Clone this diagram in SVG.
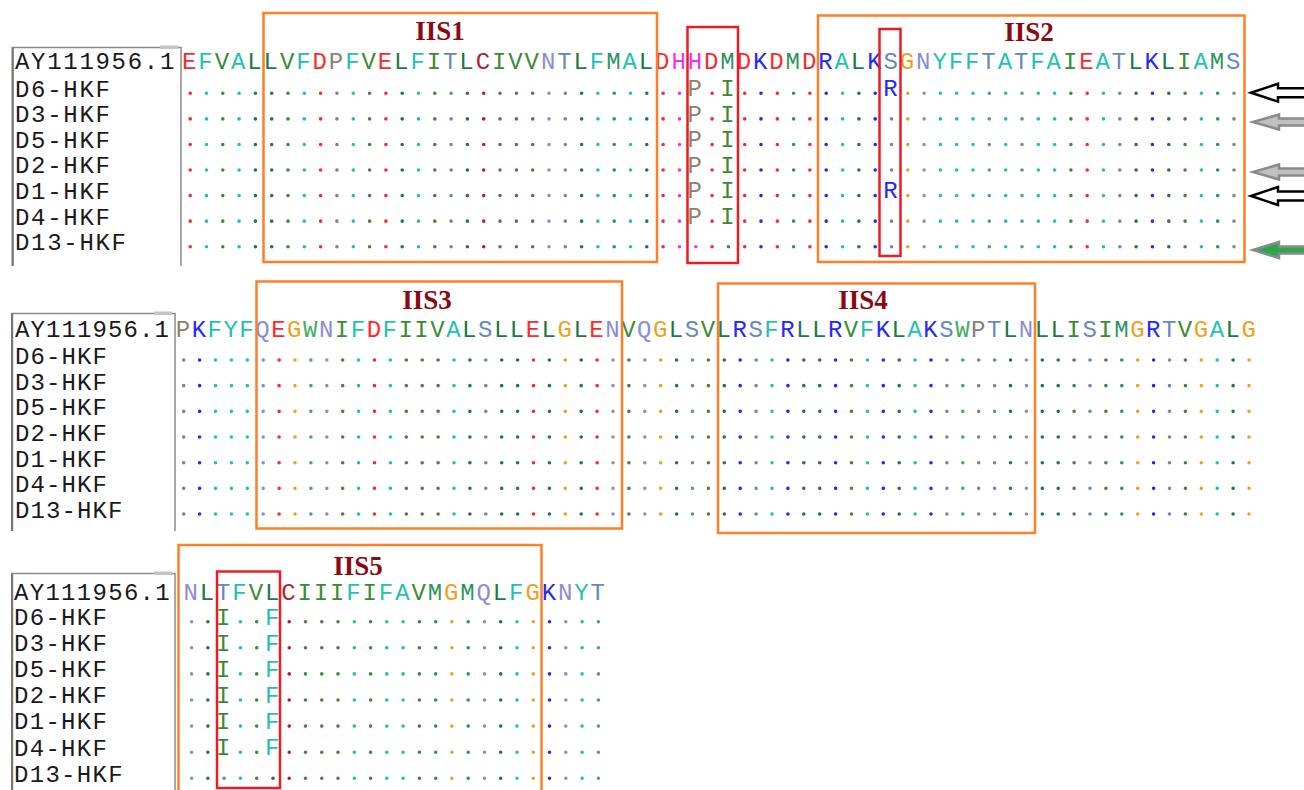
<svg xmlns="http://www.w3.org/2000/svg" width="1304" height="790" viewBox="0 0 1304 790">
<style>
text{font-family:"Liberation Mono","DejaVu Sans Mono",monospace;font-size:24px}
.nm{fill:#1a1a1a}
.lab{font-family:"Liberation Serif","DejaVu Serif",serif;font-weight:bold;font-size:27px;fill:#8b0a12;text-anchor:middle}
.r{fill:#ff2828}.t{fill:#1fc2b2}.g{fill:#3a8c34}.l{fill:#1b7a46}.m{fill:#2a9560}.w{fill:#3fae5e}
.s{fill:#6689c0}.v{fill:#8c8cd4}.c{fill:#b21e30}.p{fill:#8a8070}.h{fill:#f032f0}.b{fill:#2626ff}.o{fill:#f0a020}
.dots path{fill:none;stroke-width:3.6;stroke-linecap:round}
.d1 path{stroke-dasharray:0.01 25.56}
.d2 path{stroke-dasharray:0.01 25.66}
.d3 path{stroke-dasharray:0.01 26.09}
.frame{fill:none;stroke:#8c8c8c;stroke-width:1.5}
.ob{fill:none;stroke:#ff7f27;stroke-width:2.5}
.rb{fill:none;stroke:#ed1c24;stroke-width:2.5}
.tab{fill:#c4c4c4}
.aw{fill:#ffffff;stroke:#000000;stroke-width:2.5}
.ag{fill:#c0c0c0;stroke:#8a8a8a;stroke-width:2.5}
.agr{fill:#2aa84a;stroke:#8a8a8a;stroke-width:2.5}
</style>

<g id="block1">
<path class="frame" d="M13 266V47.5H181V266"/>
<path d="M12.5 266V47" stroke="#777" stroke-width="2" fill="none"/>
<rect class="tab" x="160" y="45.5" width="18" height="3.5"/>
<text class="nm" x="15" y="69" style="letter-spacing:1.7px">AY111956.1</text>
<text class="nm" x="15" y="96.7" style="letter-spacing:1.7px">D6-HKF</text>
<text class="nm" x="15" y="122.3" style="letter-spacing:1.7px">D3-HKF</text>
<text class="nm" x="15" y="147.8" style="letter-spacing:1.7px">D5-HKF</text>
<text class="nm" x="15" y="173.4" style="letter-spacing:1.7px">D2-HKF</text>
<text class="nm" x="15" y="199" style="letter-spacing:1.7px">D1-HKF</text>
<text class="nm" x="15" y="224.6" style="letter-spacing:1.7px">D4-HKF</text>
<text class="nm" x="15" y="250.1" style="letter-spacing:1.7px">D13-HKF</text>
<text x="182" y="69" style="letter-spacing:1.91px"><tspan class="r">E</tspan><tspan class="t">F</tspan><tspan class="g">V</tspan><tspan class="t">A</tspan><tspan class="l">LL</tspan><tspan class="g">V</tspan><tspan class="t">F</tspan><tspan class="r">D</tspan><tspan class="p">P</tspan><tspan class="t">F</tspan><tspan class="g">V</tspan><tspan class="r">E</tspan><tspan class="l">L</tspan><tspan class="t">F</tspan><tspan class="g">I</tspan><tspan class="s">T</tspan><tspan class="l">L</tspan><tspan class="c">C</tspan><tspan class="g">IVV</tspan><tspan class="v">N</tspan><tspan class="s">T</tspan><tspan class="l">L</tspan><tspan class="t">F</tspan><tspan class="m">M</tspan><tspan class="t">A</tspan><tspan class="l">L</tspan><tspan class="r">D</tspan><tspan class="h">HH</tspan><tspan class="r">D</tspan><tspan class="m">M</tspan><tspan class="r">D</tspan><tspan class="b">K</tspan><tspan class="r">D</tspan><tspan class="m">M</tspan><tspan class="r">D</tspan><tspan class="b">R</tspan><tspan class="t">A</tspan><tspan class="l">L</tspan><tspan class="b">K</tspan><tspan class="s">S</tspan><tspan class="o">G</tspan><tspan class="v">N</tspan><tspan class="t">YFF</tspan><tspan class="s">T</tspan><tspan class="t">A</tspan><tspan class="s">T</tspan><tspan class="t">FA</tspan><tspan class="g">I</tspan><tspan class="r">E</tspan><tspan class="t">A</tspan><tspan class="s">T</tspan><tspan class="l">L</tspan><tspan class="b">K</tspan><tspan class="l">L</tspan><tspan class="g">I</tspan><tspan class="t">A</tspan><tspan class="m">M</tspan><tspan class="s">S</tspan></text>
<g class="dots d1">
<path stroke="#ff2828" d="M190.2 93.3V247M320.6 93.3V247M385.9 93.3V247M663.1 93.3V247M712.1 93.3V247M744.7 93.3V247M777.3 93.3V247M809.9 93.3V247M1087.2 93.3V247"/>
<path stroke="#1fc2b2" d="M206.5 93.3V247M239.1 93.3V247M304.3 93.3V247M353.3 93.3V247M418.5 93.3V247M597.9 93.3V247M630.5 93.3V247M842.6 93.3V247M940.4 93.3V247M956.7 93.3V247M973 93.3V247M1005.7 93.3V247M1038.3 93.3V247M1054.6 93.3V247M1103.5 93.3V247M1201.4 93.3V247"/>
<path stroke="#3a8c34" d="M222.8 93.3V247M288 93.3V247M369.6 93.3V247M434.8 93.3V247M500 93.3V247M516.4 93.3V247M532.7 93.3V247M1070.9 93.3V247M1185.1 93.3V247"/>
<path stroke="#1b7a46" d="M255.4 93.3V247M271.7 93.3V247M402.2 93.3V247M467.4 93.3V247M581.6 93.3V247M646.8 93.3V247M858.9 93.3V247M1136.1 93.3V247M1168.8 93.3V247"/>
<path stroke="#2a9560" d="M614.2 93.3V247M793.6 93.3V247M1217.7 93.3V247"/>
<path stroke="#6689c0" d="M451.1 93.3V247M565.3 93.3V247M989.3 93.3V247M1022 93.3V247M1119.8 93.3V247M1234 93.3V247M891.5 118.87V171M891.5 221.15V247"/>
<path stroke="#b21e30" d="M483.7 93.3V247"/>
<path stroke="#8c8cd4" d="M549 93.3V247M924.1 93.3V247"/>
<path stroke="#8a8070" d="M336.9 93.3V247"/>
<path stroke="#f032f0" d="M679.5 93.3V247"/>
<path stroke="#2626ff" d="M761 93.3V247M826.2 93.3V247M875.2 93.3V247M1152.4 93.3V247"/>
<path stroke="#f0a020" d="M907.8 93.3V247"/>
<circle cx="695.8" cy="246.7" r="1.8" fill="#f032f0"/>
<circle cx="728.4" cy="246.7" r="1.8" fill="#2a9560"/>
</g>
<text class="p" x="687.6" y="96.1">P</text><text class="g" x="720.2" y="96.1">I</text>
<text class="p" x="687.6" y="121.7">P</text><text class="g" x="720.2" y="121.7">I</text>
<text class="p" x="687.6" y="147.2">P</text><text class="g" x="720.2" y="147.2">I</text>
<text class="p" x="687.6" y="172.8">P</text><text class="g" x="720.2" y="172.8">I</text>
<text class="p" x="687.6" y="198.4">P</text><text class="g" x="720.2" y="198.4">I</text>
<text class="p" x="687.6" y="224">P</text><text class="g" x="720.2" y="224">I</text>
<text class="b" x="883.3" y="96.1">R</text>
<text class="b" x="883.3" y="198.4">R</text>
<rect class="ob" x="263.5" y="13" width="393.5" height="249"/>
<rect class="ob" x="818" y="15.5" width="426.5" height="246.5"/>
<rect class="rb" x="687.5" y="27" width="50.5" height="236"/>
<rect class="rb" x="879.5" y="29" width="21" height="227"/>
<text class="lab" x="440" y="40">IIS1</text>
<text class="lab" x="1029" y="40.5">IIS2</text>
</g>

<g id="arrows">
<polygon class="aw" points="1251,92.7 1278,83.8 1278,88.3 1306,88.3 1306,97.3 1278,97.3 1278,101.6"/>
<polygon class="ag" points="1253,122 1279,114.5 1279,118.5 1306,118.5 1306,125.5 1279,125.5 1279,129.5"/>
<polygon class="ag" points="1253,172 1279,164.5 1279,168.5 1306,168.5 1306,175.5 1279,175.5 1279,179.5"/>
<polygon class="aw" points="1251,196 1278,187 1278,191.5 1306,191.5 1306,200.5 1278,200.5 1278,205"/>
<polygon class="agr" points="1253,250 1279,242 1279,246.5 1306,246.5 1306,253.5 1279,253.5 1279,258"/>
</g>

<g id="block2">
<path class="frame" d="M12.5 531V313.5H175V531"/>
<path d="M12 531V313" stroke="#777" stroke-width="2" fill="none"/>
<rect class="tab" x="154" y="311.5" width="18" height="3.5"/>
<text class="nm" x="15" y="337" style="letter-spacing:1.1px">AY111956.1</text>
<text class="nm" x="15" y="364" style="letter-spacing:1.1px">D6-HKF</text>
<text class="nm" x="15" y="389.7" style="letter-spacing:1.1px">D3-HKF</text>
<text class="nm" x="15" y="415.3" style="letter-spacing:1.1px">D5-HKF</text>
<text class="nm" x="15" y="441" style="letter-spacing:1.1px">D2-HKF</text>
<text class="nm" x="15" y="466.7" style="letter-spacing:1.1px">D1-HKF</text>
<text class="nm" x="15" y="492.4" style="letter-spacing:1.1px">D4-HKF</text>
<text class="nm" x="15" y="518" style="letter-spacing:1.1px">D13-HKF</text>
<text x="175.75" y="337" style="letter-spacing:1.5px"><tspan class="p">P</tspan><tspan class="b">K</tspan><tspan class="t">FYF</tspan><tspan class="v">Q</tspan><tspan class="r">E</tspan><tspan class="o">G</tspan><tspan class="w">W</tspan><tspan class="v">N</tspan><tspan class="g">I</tspan><tspan class="t">F</tspan><tspan class="r">D</tspan><tspan class="t">F</tspan><tspan class="g">IIV</tspan><tspan class="t">A</tspan><tspan class="l">L</tspan><tspan class="s">S</tspan><tspan class="l">LL</tspan><tspan class="r">E</tspan><tspan class="l">L</tspan><tspan class="o">G</tspan><tspan class="l">L</tspan><tspan class="r">E</tspan><tspan class="v">N</tspan><tspan class="g">V</tspan><tspan class="v">Q</tspan><tspan class="o">G</tspan><tspan class="l">L</tspan><tspan class="s">S</tspan><tspan class="g">V</tspan><tspan class="l">L</tspan><tspan class="b">R</tspan><tspan class="s">S</tspan><tspan class="t">F</tspan><tspan class="b">R</tspan><tspan class="l">LL</tspan><tspan class="b">R</tspan><tspan class="g">V</tspan><tspan class="t">F</tspan><tspan class="b">K</tspan><tspan class="l">L</tspan><tspan class="t">A</tspan><tspan class="b">K</tspan><tspan class="s">S</tspan><tspan class="w">W</tspan><tspan class="p">P</tspan><tspan class="s">T</tspan><tspan class="l">L</tspan><tspan class="v">N</tspan><tspan class="l">LL</tspan><tspan class="g">I</tspan><tspan class="s">S</tspan><tspan class="g">I</tspan><tspan class="m">M</tspan><tspan class="o">G</tspan><tspan class="b">R</tspan><tspan class="s">T</tspan><tspan class="g">V</tspan><tspan class="o">G</tspan><tspan class="t">A</tspan><tspan class="l">L</tspan><tspan class="o">G</tspan></text>
<g class="dots d2">
<path stroke="#8a8070" d="M183.7 360V514.2M978.7 360V514.2"/>
<path stroke="#2626ff" d="M199.6 360V514.2M740.2 360V514.2M787.9 360V514.2M835.6 360V514.2M883.3 360V514.2M931 360V514.2M1153.6 360V514.2"/>
<path stroke="#1fc2b2" d="M215.5 360V514.2M231.4 360V514.2M247.3 360V514.2M358.6 360V514.2M390.4 360V514.2M454 360V514.2M772 360V514.2M867.4 360V514.2M915.1 360V514.2M1217.2 360V514.2"/>
<path stroke="#8c8cd4" d="M263.2 360V514.2M326.8 360V514.2M613 360V514.2M644.8 360V514.2M1026.4 360V514.2"/>
<path stroke="#ff2828" d="M279.1 360V514.2M374.5 360V514.2M533.5 360V514.2M597.1 360V514.2"/>
<path stroke="#f0a020" d="M295 360V514.2M565.3 360V514.2M660.7 360V514.2M1137.7 360V514.2M1201.3 360V514.2M1249 360V514.2"/>
<path stroke="#3fae5e" d="M310.9 360V514.2M962.8 360V514.2"/>
<path stroke="#3a8c34" d="M342.7 360V514.2M406.3 360V514.2M422.2 360V514.2M438.1 360V514.2M628.9 360V514.2M708.4 360V514.2M851.5 360V514.2M1074.1 360V514.2M1105.9 360V514.2M1185.4 360V514.2"/>
<path stroke="#1b7a46" d="M469.9 360V514.2M501.7 360V514.2M517.6 360V514.2M549.4 360V514.2M581.2 360V514.2M676.6 360V514.2M724.3 360V514.2M803.8 360V514.2M819.7 360V514.2M899.2 360V514.2M1010.5 360V514.2M1042.3 360V514.2M1058.2 360V514.2M1233.1 360V514.2"/>
<path stroke="#6689c0" d="M485.8 360V514.2M692.5 360V514.2M756.1 360V514.2M946.9 360V514.2M994.6 360V514.2M1090 360V514.2M1169.5 360V514.2"/>
<path stroke="#2a9560" d="M1121.8 360V514.2"/>
</g>
<rect class="ob" x="256.5" y="281.5" width="365.5" height="247"/>
<rect class="ob" x="718" y="283.5" width="317" height="249.5"/>
<text class="lab" x="427" y="309">IIS3</text>
<text class="lab" x="863" y="308.5">IIS4</text>
</g>

<g id="block3">
<path class="frame" d="M12.5 792V573.5H175V792"/>
<path d="M12 792V573" stroke="#777" stroke-width="2" fill="none"/>
<rect class="tab" x="154" y="571.5" width="18" height="3.5"/>
<text class="nm" x="14" y="600" style="letter-spacing:1.3px">AY111956.1</text>
<text class="nm" x="14" y="625" style="letter-spacing:1.3px">D6-HKF</text>
<text class="nm" x="14" y="651.1" style="letter-spacing:1.3px">D3-HKF</text>
<text class="nm" x="14" y="677.2" style="letter-spacing:1.3px">D5-HKF</text>
<text class="nm" x="14" y="703.3" style="letter-spacing:1.3px">D2-HKF</text>
<text class="nm" x="14" y="729.4" style="letter-spacing:1.3px">D1-HKF</text>
<text class="nm" x="14" y="755.5" style="letter-spacing:1.3px">D4-HKF</text>
<text class="nm" x="14" y="781.6" style="letter-spacing:1.3px">D13-HKF</text>
<text x="183.5" y="600" style="letter-spacing:1.87px"><tspan class="v">N</tspan><tspan class="l">L</tspan><tspan class="s">T</tspan><tspan class="t">F</tspan><tspan class="g">V</tspan><tspan class="l">L</tspan><tspan class="c">C</tspan><tspan class="g">III</tspan><tspan class="t">F</tspan><tspan class="g">I</tspan><tspan class="t">FA</tspan><tspan class="g">V</tspan><tspan class="m">M</tspan><tspan class="o">G</tspan><tspan class="m">M</tspan><tspan class="v">Q</tspan><tspan class="l">L</tspan><tspan class="t">F</tspan><tspan class="o">G</tspan><tspan class="b">K</tspan><tspan class="v">N</tspan><tspan class="t">Y</tspan><tspan class="s">T</tspan></text>
<g class="dots d3">
<path stroke="#8c8cd4" d="M191.6 621.7V778.5M484.5 621.7V778.5M565.8 621.7V778.5"/>
<path stroke="#1b7a46" d="M207.9 621.7V778.5M500.7 621.7V778.5"/>
<path stroke="#6689c0" d="M598.4 621.7V778.5"/>
<path stroke="#1fc2b2" d="M240.4 621.7V778.5M354.3 621.7V778.5M386.8 621.7V778.5M403.1 621.7V778.5M517 621.7V778.5M582.1 621.7V778.5"/>
<path stroke="#3a8c34" d="M256.7 621.7V778.5M305.5 621.7V778.5M321.8 621.7V778.5M338 621.7V778.5M370.6 621.7V778.5M419.4 621.7V778.5"/>
<path stroke="#b21e30" d="M289.2 621.7V778.5"/>
<path stroke="#2a9560" d="M435.7 621.7V778.5M468.2 621.7V778.5"/>
<path stroke="#f0a020" d="M451.9 621.7V778.5M533.3 621.7V778.5"/>
<path stroke="#2626ff" d="M549.5 621.7V778.5"/>
<circle cx="224.1" cy="778.3" r="1.8" fill="#6689c0"/>
<circle cx="273" cy="778.3" r="1.8" fill="#1b7a46"/>
</g>
<text class="g" x="216" y="624.7">I</text><text class="t" x="264.9" y="624.7">F</text>
<text class="g" x="216" y="650.8">I</text><text class="t" x="264.9" y="650.8">F</text>
<text class="g" x="216" y="676.9">I</text><text class="t" x="264.9" y="676.9">F</text>
<text class="g" x="216" y="703">I</text><text class="t" x="264.9" y="703">F</text>
<text class="g" x="216" y="729.1">I</text><text class="t" x="264.9" y="729.1">F</text>
<text class="g" x="216" y="755.2">I</text><text class="t" x="264.9" y="755.2">F</text>
<rect class="ob" x="178.5" y="545" width="363" height="247"/>
<rect class="rb" x="217" y="571.5" width="63" height="216.5"/>
<text class="lab" x="358" y="575">IIS5</text>
</g>
</svg>
